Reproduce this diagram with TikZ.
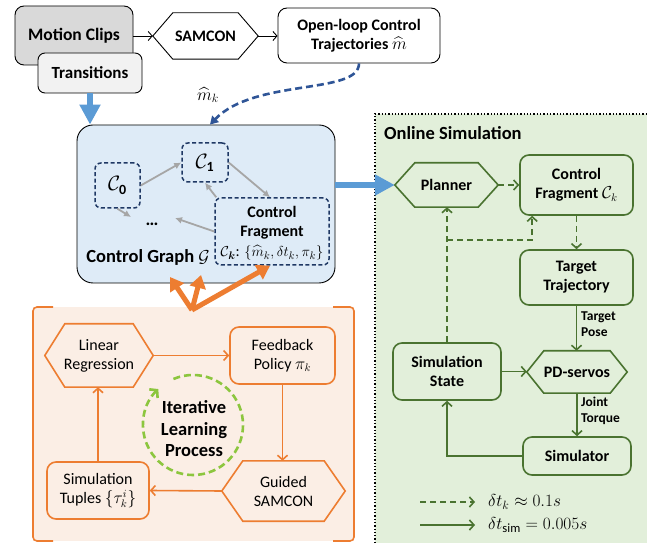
\documentclass[tikz,border=0pt]{standalone}
\usepackage{amsmath,amssymb}
\usepackage{fontspec}
\setmainfont{Carlito}
\usetikzlibrary{arrows.meta,calc}
\definecolor{grayA}{HTML}{D9D9D9}
\definecolor{grayB}{HTML}{F2F2F2}
\definecolor{cgfill}{HTML}{DEEBF7}
\definecolor{navy}{HTML}{1F3864}
\definecolor{linkgray}{HTML}{A6A6A6}
\definecolor{bluethick}{HTML}{5B9BD5}
\definecolor{bluedash}{HTML}{2F5597}
\definecolor{orn}{HTML}{ED7D31}
\definecolor{peach}{HTML}{FBEEE5}
\definecolor{simfill}{HTML}{E2EFDA}
\definecolor{grn}{HTML}{4A7330}
\definecolor{lgrn}{HTML}{8CC63E}
\newcommand{\hexnode}[8]{%
  \node[minimum width=#4pt, minimum height=#5pt] (#1) at (#2,#3) {#8};
  \draw[#7] (#1.west) -- ([xshift=#6pt]#1.north west) -- ([xshift=-#6pt]#1.north east) -- (#1.east) -- ([xshift=-#6pt]#1.south east) -- ([xshift=#6pt]#1.south west) -- cycle;}
\begin{document}
\begin{tikzpicture}[x=1pt,y=1pt,
  every node/.style={font=\fontsize{16}{19}\selectfont, align=center, inner sep=0pt},
  bf/.style={font=\fontsize{16}{19}\selectfont\bfseries},
  rg/.style={font=\fontsize{16}{19}\selectfont},
  small/.style={font=\fontsize{13.5}{16}\selectfont\bfseries, align=left},
  blkbox/.style={draw=black, line width=0.9pt, rounded corners=9pt},
  frag/.style={draw=navy, dashed, dash pattern=on 4pt off 2.5pt, line width=1.5pt, rounded corners=6pt},
  grayarr/.style={draw=linkgray, line width=1.8pt, -{Latex[length=7pt,width=7pt]}},
  blkarr/.style={draw=black, line width=0.9pt, -{Straight Barb[length=4pt,width=9pt]}},
  bigblue/.style={draw=bluethick, line width=6pt, -{Triangle[length=20pt,width=20pt]}},
  obox/.style={draw=orn, line width=1.6pt, rounded corners=9pt},
  oline/.style={draw=orn, line width=1.6pt},
  oarr/.style={draw=orn, line width=1.6pt, -{Straight Barb[length=4.5pt,width=10pt]}},
  othick/.style={draw=orn, line width=5pt, -{Triangle[length=13pt,width=16pt]}},
  gbox/.style={draw=grn, line width=1.6pt, rounded corners=9pt},
  gline/.style={draw=grn, line width=1.6pt},
  garr/.style={draw=grn, line width=1.6pt, -{Straight Barb[length=4.5pt,width=10pt]}},
  gdash/.style={draw=grn, line width=1.6pt, dash pattern=on 6pt off 4pt},
]
\useasboundingbox (0,0) rectangle (651,-545);
\fill[white] (0,0) rectangle (651,-545);

% ---------- panels
\fill[simfill] (375,-114) rectangle (647,-543);
\draw[dotted, line width=1.3pt] (375,-543) -- (375,-114) -- (647,-114);
\fill[peach] (33,-307) rectangle (354,-541);
\draw[oline, rounded corners=4pt] (53,-307) -- (33,-307) -- (33,-541) -- (53,-541);
\draw[oline, rounded corners=4pt] (333,-307) -- (354,-307) -- (354,-541) -- (333,-541);

% ---------- top row
\node[blkbox, fill=grayA, minimum width=118pt, minimum height=59pt, font=\fontsize{17.5}{19}\selectfont\bfseries] (mc) at (74,-35.5) {Motion Clips};
\node[blkbox, fill=grayB, rounded corners=7pt, minimum width=104pt, minimum height=40pt, font=\fontsize{17}{19}\selectfont\bfseries] (tr) at (90,-73) {Transitions};
\hexnode{sam}{205.5}{-36}{105}{46}{20}{draw=black, line width=0.9pt}{\bfseries SAMCON}
\node[blkbox, minimum width=162pt, minimum height=55pt, bf] (ol) at (359,-35.5) {Open-loop Control\\Trajectories $\widehat{m}$};
\draw[blkarr] (sam.west -| mc.east) -- (sam.west);
\draw[blkarr] (sam.east) -- (sam.east -| ol.west);

% ---------- control graph
\node[draw=black, line width=0.9pt, fill=cgfill, rounded corners=16pt, minimum width=258pt, minimum height=158pt] (cg) at (206,-204) {};
\draw[bigblue] (tr.south) -- (tr.south |- cg.north);
\draw[bluedash, line width=2.6pt, dash pattern=on 7pt off 4pt, -{Triangle[length=8pt,width=9pt]}] (ol.south) .. controls (359,-95) and (255,-78) .. ([xshift=4pt]cg.north);
\node[font=\fontsize{18}{20}\selectfont] (mk) at (208,-95) {$\widehat{m}_k$};

\node[frag, minimum width=45pt, minimum height=45pt, font=\fontsize{20}{22}\selectfont] (c0) at (117.5,-185.5) {$\mathcal{C}_{\mathbf{0}}$};
\node[frag, minimum width=46pt, minimum height=39pt, font=\fontsize{20}{22}\selectfont] (c1) at (205,-162.5) {$\mathcal{C}_{\mathbf{1}}$};
\node[font=\fontsize{18}{20}\selectfont\bfseries] (dots) at (152,-224) {\ldots};
\node[frag, minimum width=114pt, minimum height=67pt] (cf) at (272,-231.5) {};
\node[bf] (cft) at (272,-223) {Control\\Fragment};
\node[font=\fontsize{15.5}{17}\selectfont] (cfm) at (272,-253) {$\mathcal{C}_{\boldsymbol{k}}$: $\{\widehat{m}_k,\delta t_k,\pi_k\}$};
\node[font=\fontsize{18.5}{20}\selectfont\bfseries] (cgl) at (148,-257) {Control Graph $\mathcal{G}$};
\coordinate (d1) at (131,-217);
\coordinate (d2) at (175,-218);
\draw[grayarr] (c0.east) -- (c1.west);
\draw[grayarr] (c1.east) -- ([xshift=-2pt]cf.north);
\draw[grayarr] ([xshift=2pt]cf.north west) -- (c1.south);
\draw[grayarr] (c0.south) -- (d1);
\draw[grayarr] (cf.west) -- (d2);

% ---------- orange thick arrows
\coordinate (ob) at (192,-310);
\coordinate (ot1) at (170,-277);
\coordinate (ot2) at (201,-275);
\draw[othick] (ob) -- (ot1);
\draw[othick] (ob) -- (ot2);
\draw[othick] (ob) -- ([xshift=-2pt]cf.south);

% ---------- learning process
\hexnode{lr}{99}{-355.5}{108}{63}{20}{oline}{Linear\\Regression}
\node[obox, minimum width=105pt, minimum height=57pt, rg] (fp) at (282.5,-355.5) {Feedback\\Policy $\pi_k$};
\hexnode{gs}{283.5}{-491}{123}{60}{21}{oline}{Guided\\SAMCON}
\node[obox, minimum width=102pt, minimum height=57pt, rg] (st) at (98,-490.5) {Simulation\\Tuples $\left\{\tau_k^i\right\}$};
\draw[oarr] (lr.east) -- (fp.west);
\draw[oarr] (fp.south) -- (fp.south |- gs.north);
\draw[oarr] (gs.west) -- (st.east);
\draw[oarr] (st.north) -- (st.north |- lr.south);
\coordinate (cc) at (193,-425);
\draw[draw=lgrn, line width=2.6pt, dash pattern=on 7pt off 4pt, -{Straight Barb[length=5pt,width=12pt]}] ($(cc)+(113:50)$) arc[start angle=113, end angle=-226, radius=50pt];
\node[font=\fontsize{18.5}{21.5}\selectfont\bfseries] (ilp) at (194,-429) {Iterative\\Learning\\Process};

% ---------- online simulation
\node[font=\fontsize{18.5}{20}\selectfont\bfseries, anchor=west] (ostitle) at (384,-133) {Online Simulation};
\hexnode{pl}{446.5}{-185}{103}{44}{20}{gline}{\bfseries Planner}
\node[gbox, minimum width=113pt, minimum height=60pt, bf] (cfk) at (576.5,-185) {Control\\Fragment $\mathcal{C}_k$};
\node[gbox, minimum width=113pt, minimum height=55pt, bf] (tt) at (576.5,-277.5) {Target\\Trajectory};
\node[gbox, minimum width=108pt, minimum height=57pt, bf] (ss) at (447,-371.5) {Simulation\\State};
\hexnode{pd}{577}{-372}{100}{42}{17}{gline}{\bfseries PD-servos}
\node[gbox, minimum width=108pt, minimum height=38pt, bf] (sim) at (577,-456) {Simulator};
\draw[bigblue] (pl.west -| cg.east) -- (pl.west);

\draw[garr, gdash] (pl.east) -- (cfk.west);
\draw[garr, gdash] (cfk.south) -- (tt.north);
\draw[garr, gdash] (ss.north) -- (ss.north |- pl.south);
\coordinate (jn) at (447,-240);
\draw[garr, gdash] (jn) -| ([xshift=13pt]cfk.south west);
\draw[garr] (tt.south) -- (tt.south |- pd.north);
\node[small, anchor=west] (tp) at (581,-324) {Target\\Pose};
\draw[garr] (pd.south) -- (pd.south |- sim.north);
\node[small, anchor=west] (jt) at (581,-411) {Joint\\Torque};
\draw[garr] (ss.east) -- (ss.east -| pd.west);
\draw[garr] (sim.west) -| (ss.south);

% ---------- legend
\coordinate (la1) at (420,-502);
\coordinate (lb1) at (475,-502);
\coordinate (la2) at (420,-525);
\coordinate (lb2) at (475,-525);
\draw[garr, gdash] (la1) -- (lb1);
\draw[garr] (la2) -- (lb2);
\node[font=\fontsize{18}{20}\selectfont, anchor=west] (lt1) at (488,-502) {$\delta t_k \approx 0.1s$};
\node[font=\fontsize{18}{20}\selectfont, anchor=west] (lt2) at (488,-525) {$\delta t_{\mathrm{sim}} = 0.005s$};
\end{tikzpicture}
\end{document}
